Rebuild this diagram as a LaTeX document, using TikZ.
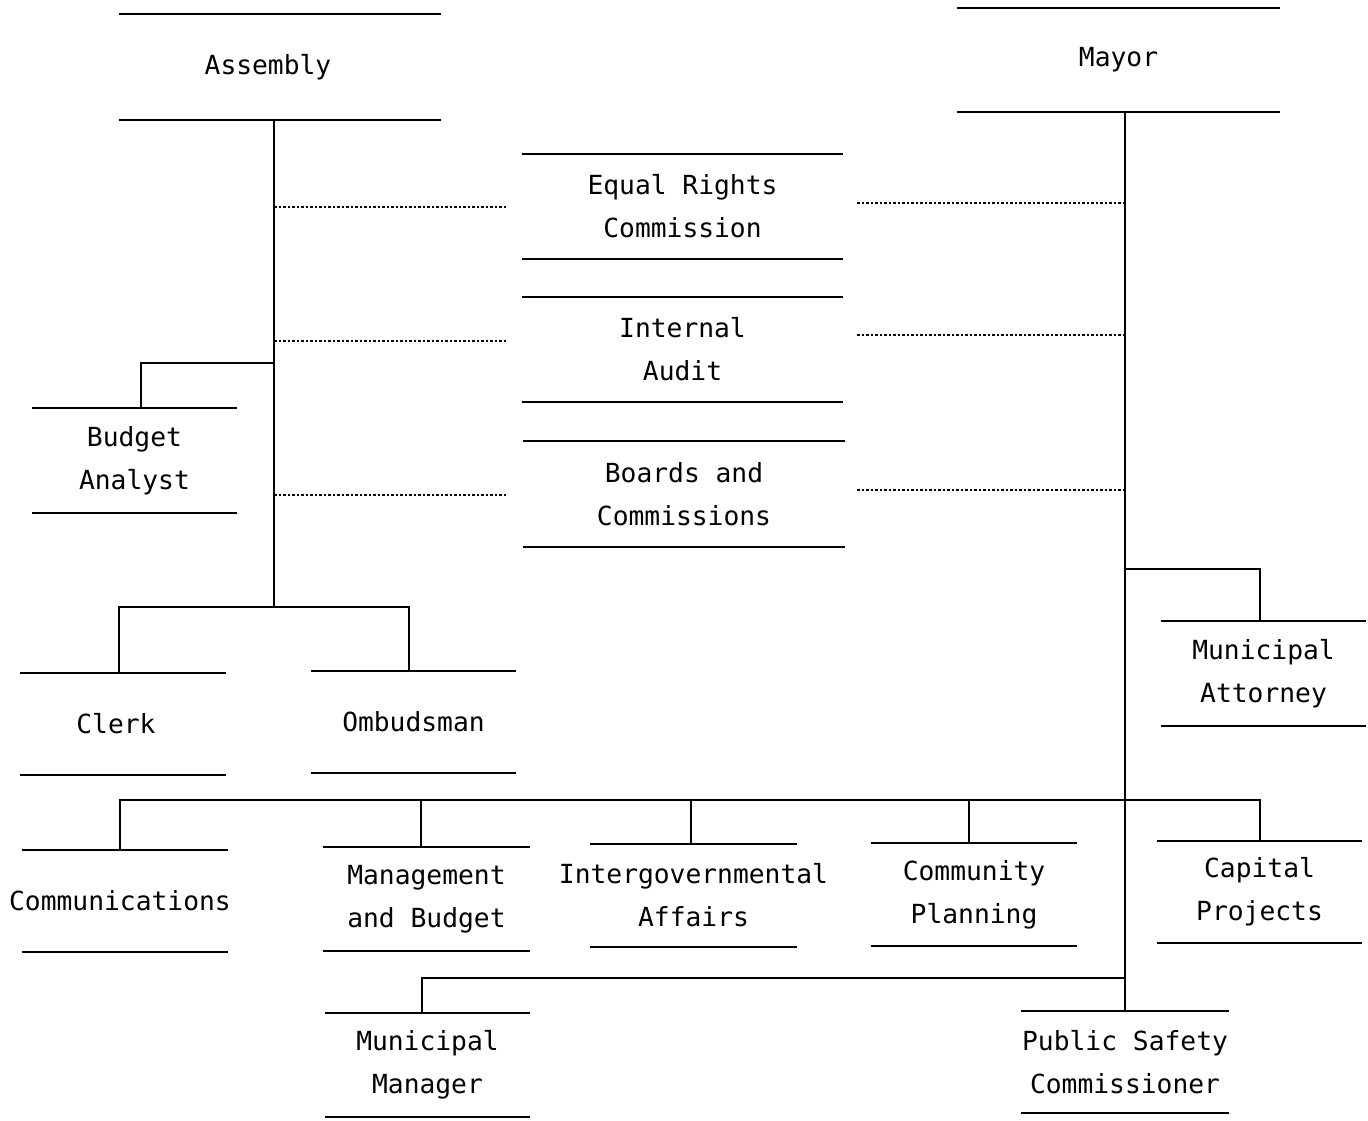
\documentclass[tikz,border=0pt]{standalone}
\usepackage{fontspec}
\newfontfamily\orgfont{DejaVu Sans Mono}
\usetikzlibrary{calc}
\begin{document}
\begin{tikzpicture}[x=1pt,y=-1pt,
  orgbox/.style={inner sep=0pt, align=center, font=\orgfont\fontsize{26.3}{43}\selectfont},
  solidline/.style={line width=1.6pt, line cap=butt},
  boxline/.style={line width=1.8pt},
  dotline/.style={line width=1.2pt, dash pattern=on 2.5pt off 2pt}]
\useasboundingbox (0,0) rectangle (1368,1121);
\fill[white] (0,0) rectangle (1368,1121);

% nodes
\node[orgbox, minimum width=322pt, minimum height=106pt] (asm) at (280,67) {\hspace*{-24pt}Assembly};
\node[orgbox, minimum width=323pt, minimum height=104pt] (mayor) at (1118.5,60) {Mayor};
\node[orgbox, minimum width=321pt, minimum height=105pt] (erc) at (682.5,206.5) {Equal Rights\\Commission};
\node[orgbox, minimum width=321pt, minimum height=105pt] (ia) at (682.5,349.5) {Internal\\Audit};
\node[orgbox, minimum width=322pt, minimum height=106pt] (bc) at (684,494) {Boards and\\Commissions};
\node[orgbox, minimum width=205pt, minimum height=105pt] (ba) at (134.5,460.5) {Budget\\Analyst};
\node[orgbox, minimum width=206pt, minimum height=102pt] (clerk) at (123,724) {\hspace*{-14pt}Clerk};
\node[orgbox, minimum width=205pt, minimum height=102pt] (omb) at (413.5,722) {Ombudsman};
\node[orgbox, minimum width=205pt, minimum height=105pt] (matt) at (1263.5,673.5) {Municipal\\Attorney};
\node[orgbox, minimum width=206pt, minimum height=102pt] (comm) at (125,901) {\makebox[0pt]{\hspace*{-10pt}Communications}};
\node[orgbox, minimum width=207pt, minimum height=104pt] (mb) at (426.5,899) {Management\\and Budget};
\node[orgbox, minimum width=207pt, minimum height=103pt] (iga) at (693.5,895.5) {\makebox[0pt]{Intergovernmental}\\Affairs};
\node[orgbox, minimum width=206pt, minimum height=103pt] (cp) at (974,894.5) {Community\\Planning};
\node[orgbox, minimum width=205pt, minimum height=102pt] (cap) at (1259.5,892) {Capital\\Projects};
\node[orgbox, minimum width=205pt, minimum height=104pt] (mm) at (427.5,1065) {Municipal\\Manager};
\node[orgbox, minimum width=208pt, minimum height=102pt] (psc) at (1125,1062) {Public Safety\\Commissioner};

% box rules
\foreach \n in {asm,mayor,erc,ia,bc,ba,clerk,omb,matt,comm,mb,iga,cp,cap,mm,psc}
  \draw[boxline] (\n.north west) -- (\n.north east) (\n.south west) -- (\n.south east);

% Assembly trunk
\coordinate (tA) at (274,607);
\draw[solidline] (asm.south -| tA) -- (tA);
\draw[solidline] ([xshift=-4pt]clerk.north) |- (tA) -| ([xshift=-4.5pt]omb.north);
\draw[solidline] (tA |- 0,363) -| ([xshift=6.5pt]ba.north);

% Assembly dotted links
\draw[dotline] (tA |- 0,207) -- ($(erc.west |- 0,207)+(-14,0)$);
\draw[dotline] (tA |- 0,341) -- ($(ia.west |- 0,341)+(-14,0)$);
\draw[dotline] (tA |- 0,495) -- ($(bc.west |- 0,495)+(-15,0)$);

% Mayor trunk
\draw[solidline] (mayor.south -| psc.north) -- (psc.north);
\draw[dotline] ($(erc.east |- 0,203)+(14,0)$) -- (psc.north |- 0,203);
\draw[dotline] ($(ia.east |- 0,335)+(14,0)$) -- (psc.north |- 0,335);
\draw[dotline] ($(bc.east |- 0,490)+(12,0)$) -- (psc.north |- 0,490);
\draw[solidline] (psc.north |- 0,569) -| ([xshift=-3.5pt]matt.north);

% department row
\coordinate (row) at (0,800);
\draw[solidline] ([xshift=-5pt]comm.north) |- ([xshift=0.5pt]cap.north |- row) -- ([xshift=0.5pt]cap.north);
\draw[solidline] ([xshift=-5.5pt]mb.north |- row) -- ([xshift=-5.5pt]mb.north);
\draw[solidline] ([xshift=-2.5pt]iga.north |- row) -- ([xshift=-2.5pt]iga.north);
\draw[solidline] ([xshift=-5pt]cp.north |- row) -- ([xshift=-5pt]cp.north);

% municipal manager
\draw[solidline] (psc.north |- 0,978) -| ([xshift=-5.5pt]mm.north);
\end{tikzpicture}
\end{document}
